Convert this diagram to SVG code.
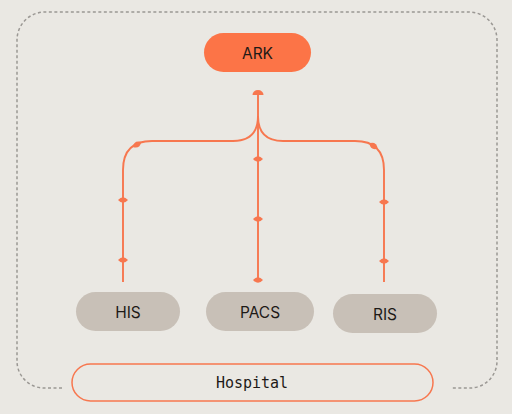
<svg xmlns="http://www.w3.org/2000/svg" width="512" height="414" viewBox="0 0 512 414">
<style>
.node{fill:#c8c0b7}
.lbl{font-family:Inter,"Liberation Sans",sans-serif;font-size:15.5px;fill:#1e1a17;text-anchor:middle;dominant-baseline:central}
.mono{font-family:"DejaVu Sans Mono","Liberation Mono",monospace;font-size:15px;fill:#1e1a17;text-anchor:middle;dominant-baseline:central}
.ln{fill:none;stroke:#f7774f;stroke-width:1.9}
.mk{fill:#f7774f}
</style>
<defs>
<path id="lens" d="M-5,0 Q0,-5.6 5,0 Q0,5.6 -5,0Z"/>
</defs>
<rect width="512" height="414" fill="#eae8e3"/>
<path d="M62,388 L44,388 A27,27 0 0 1 17,361 L17,40 A28,28 0 0 1 45,12 L469,12 A28,28 0 0 1 497,40 L497,361 A27,27 0 0 1 470,388 L452,388" fill="none" stroke="#9b9894" stroke-width="1.5" stroke-dasharray="3 2.5"/>
<g id="connectors">
<path class="ln" d="M258,95 L258,280"/>
<path class="ln" d="M123,282 L123,170 Q123,141 152,141 L233,141 C250,141 258,132 258,116"/>
<path class="ln" d="M384,282 L384,170 Q384,141 355,141 L283,141 C266,141 258,132 258,116"/>
<path class="mk" d="M252.5,95 A5.5,5 0 0 1 263.5,95 Z"/>
<use href="#lens" class="mk" transform="translate(258,159)"/>
<use href="#lens" class="mk" transform="translate(258,219)"/>
<use href="#lens" class="mk" transform="translate(258,280)"/>
<use href="#lens" class="mk" transform="translate(123,200)"/>
<use href="#lens" class="mk" transform="translate(123,260)"/>
<use href="#lens" class="mk" transform="translate(384,202)"/>
<use href="#lens" class="mk" transform="translate(384,261)"/>
<use href="#lens" class="mk" transform="translate(137,144.5) rotate(-30)"/>
<use href="#lens" class="mk" transform="translate(373.5,146) rotate(33)"/>
</g>
<g id="ark">
<rect x="204" y="33" width="107" height="39" rx="19.5" fill="#fc7447"/>
<text class="lbl" x="257.5" y="53">ARK</text>
</g>
<g id="his">
<rect class="node" x="76" y="292" width="104" height="39" rx="19.5"/>
<text class="lbl" x="128" y="312">HIS</text>
</g>
<g id="pacs">
<rect class="node" x="206" y="292" width="108" height="39" rx="19.5"/>
<text class="lbl" x="260" y="312">PACS</text>
</g>
<g id="ris">
<rect class="node" x="333" y="294" width="104" height="39" rx="19.5"/>
<text class="lbl" x="385" y="314">RIS</text>
</g>
<g id="hospital">
<rect x="72" y="364" width="361" height="37" rx="18.5" fill="none" stroke="#f7774f" stroke-width="1.5"/>
<text class="mono" x="252" y="383">Hospital</text>
</g>
</svg>
